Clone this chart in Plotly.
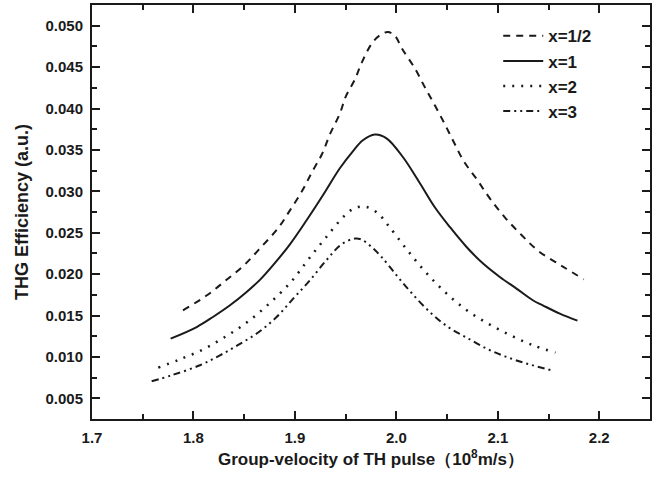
import plotly.graph_objects as go

# Data
x_half = [1.7897, 1.8133, 1.8320, 1.8498, 1.8665, 1.8833, 1.8951, 1.9069, 1.9167, 1.9266,
          1.9345, 1.9443, 1.9502, 1.9591, 1.9660, 1.9759, 1.9837, 1.9916, 1.9985, 2.0054,
          2.0182, 2.0281, 2.0379, 2.0478, 2.0567, 2.0665, 2.0793, 2.0921, 2.1069, 2.1236,
          2.1404, 2.1621, 2.1847]
y_half = [0.01563, 0.01744, 0.01925, 0.02106, 0.02324, 0.02553, 0.02770, 0.03000, 0.03229, 0.03447,
          0.03688, 0.03940, 0.04147, 0.04350, 0.04558, 0.04787, 0.04884, 0.04924, 0.04880, 0.04727,
          0.04485, 0.04256, 0.04039, 0.03809, 0.03592, 0.03362, 0.03145, 0.02915, 0.02686, 0.02469,
          0.02275, 0.02106, 0.01937]

x_one = [1.7775, 1.8032, 1.8192, 1.8360, 1.8524, 1.8655, 1.8783, 1.8951, 1.9115, 1.9276,
         1.9443, 1.9571, 1.9670, 1.9788, 1.9903, 2.0064, 2.0232, 2.0379, 2.0527, 2.0692,
         2.0852, 2.1020, 2.1184, 2.1345, 2.1443, 2.1611, 2.1785]
y_one = [0.01221, 0.01361, 0.01482, 0.01623, 0.01784, 0.01930, 0.02105, 0.02360, 0.02650, 0.02952,
         0.03278, 0.03483, 0.03616, 0.03685, 0.03640, 0.03414, 0.03097, 0.02807, 0.02569, 0.02327,
         0.02130, 0.01965, 0.01825, 0.01684, 0.01623, 0.01523, 0.01438]

x_two = [1.7653, 1.7867, 1.8091, 1.8310, 1.8524, 1.8747, 1.8961, 1.9131, 1.9305, 1.9493,
         1.9601, 1.9706, 1.9821, 1.9919, 2.0084, 2.0264, 2.0468, 2.0685, 2.0904, 2.1125,
         2.1348, 2.1568]
y_two = [0.00871, 0.00971, 0.01088, 0.01240, 0.01414, 0.01644, 0.01905, 0.02175, 0.02441, 0.02710,
         0.02803, 0.02810, 0.02731, 0.02589, 0.02327, 0.02058, 0.01796, 0.01571, 0.01402, 0.01261,
         0.01140, 0.01052]

x_three = [1.7588, 1.7785, 1.8064, 1.8261, 1.8441, 1.8638, 1.8820, 1.8983, 1.9148, 1.9312,
           1.9460, 1.9591, 1.9657, 1.9756, 1.9854, 2.0002, 2.0150, 2.0330, 2.0510, 2.0692,
           2.0889, 2.1069, 2.1266, 2.1529]
y_three = [0.00705, 0.00778, 0.00899, 0.01019, 0.01145, 0.01295, 0.01482, 0.01704, 0.01925, 0.02170,
           0.02360, 0.02429, 0.02417, 0.02327, 0.02207, 0.01985, 0.01772, 0.01542, 0.01361, 0.01233,
           0.01100, 0.01007, 0.00926, 0.00838]

series_names = ["x=1/2", "x=1", "x=2", "x=3"]

INK = "#1a1a1a"
FONT = "Liberation Sans, Arial, sans-serif"

fig = go.Figure()
styles = [
    (x_half, y_half, "7px,6px", 2),
    (x_one, y_one, "solid", 2),
    (x_two, y_two, "2px,7px", 2.5),
    (x_three, y_three, "7px,4px,2px,4px,2px,4px", 2),
]
for name, (xs, ys, dash, w) in zip(series_names, styles):
    fig.add_trace(go.Scatter(
        x=xs, y=ys, mode="lines", name=name,
        line=dict(color=INK, width=w, dash=dash, shape="spline", smoothing=1.0),
    ))

axis_common = dict(
    showline=True, linecolor=INK, linewidth=2, mirror="allticks",
    ticks="inside", ticklen=8, tickwidth=1.5, tickcolor=INK,
    showgrid=False, zeroline=False, automargin=False,
    tickfont=dict(family=FONT, size=15, color=INK, weight="bold"),
)

fig.update_xaxes(
    range=[1.7, 2.25], dtick=0.1, tick0=1.7, tickformat=".1f",
    minor=dict(dtick=0.05, ticks="inside", ticklen=5, tickwidth=1.5, tickcolor=INK),
    title=dict(text="Group-velocity of TH pulse（10<sup>8</sup>m/s）",
               font=dict(family=FONT, size=17, color=INK, weight="bold"), standoff=8),
    ticklabelstandoff=4,
    **axis_common,
)
fig.update_yaxes(
    range=[0.0025, 0.0525], dtick=0.005, tick0=0.005, tickformat=".3f",
    minor=dict(dtick=0.0025, ticks="inside", ticklen=5, tickwidth=1.5, tickcolor=INK),
    title=dict(text="THG Efficiency (a.u.)",
               font=dict(family=FONT, size=18, color=INK, weight="bold"), standoff=12),
    ticklabelstandoff=4,
    **axis_common,
)

fig.update_layout(
    width=656, height=477,
    margin=dict(l=92, r=6, t=5, b=58),
    plot_bgcolor="white", paper_bgcolor="white",
    legend=dict(
        x=0.728, y=0.968, xanchor="left", yanchor="top",
        bgcolor="rgba(0,0,0,0)",
        font=dict(family=FONT, size=17, color=INK, weight="bold"),
        itemwidth=40, tracegroupgap=0,
    ),
)

fig.write_html(
    "out.html",
    config={"displayModeBar": False},
    post_script="document.body.style.margin='0';document.body.style.padding='0';",
)
